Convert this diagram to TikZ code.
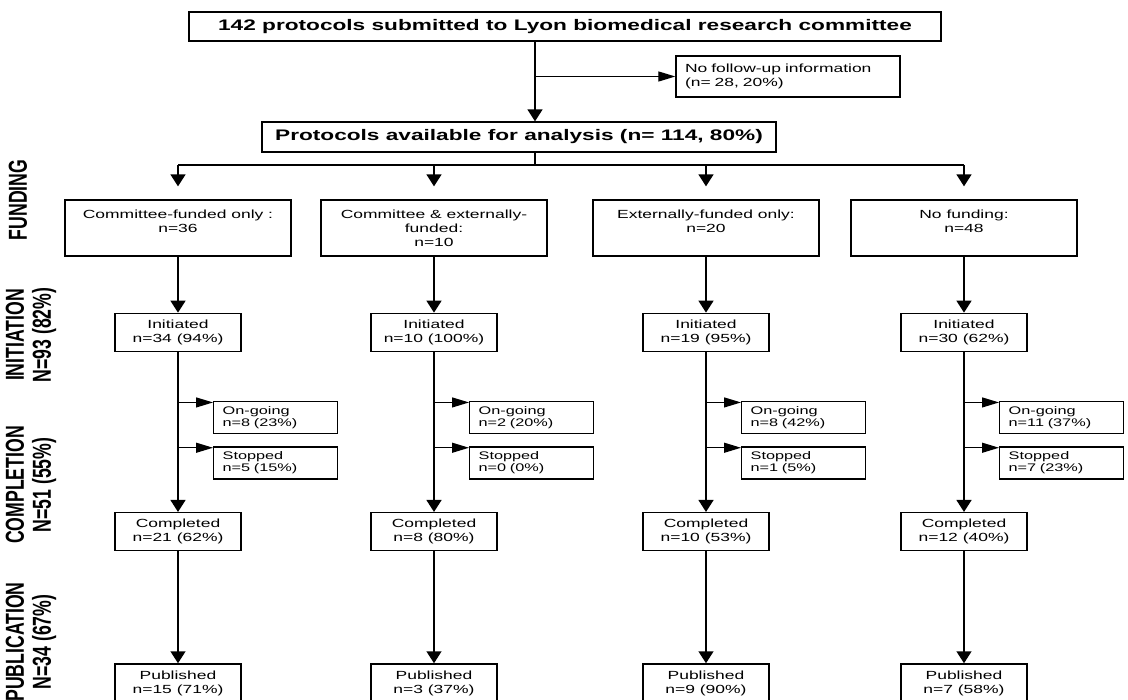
\documentclass[tikz,border=0pt]{standalone}
\usepackage{fontspec}
\setmainfont{Liberation Sans}[FakeStretch=1.48]
\newfontfamily\sidefont{Liberation Sans}[FakeStretch=0.68]
\usetikzlibrary{
  arrows.meta,
  positioning,
  calc
}
\tikzset{
  headbox/.style={draw,line width=1.3pt,inner sep=0pt,align=center,font=\bfseries\fontsize{15.3}{18}\selectfont},
  fundbox/.style={draw,line width=1.3pt,minimum width=226pt,minimum height=56pt,inner sep=0pt,align=center,font=\fontsize{11.8}{14}\selectfont},
  flowbox/.style={draw,line width=1.3pt,minimum width=126pt,minimum height=38pt,inner sep=0pt,align=center,font=\fontsize{11.8}{14}\selectfont},
  sidebox/.style={draw,line width=1.3pt,minimum height=32pt,inner xsep=9pt,inner ysep=0pt,text width=106pt,align=left,font=\fontsize{11}{12.5}\selectfont},
  sidelabel/.style={rotate=90,inner sep=0pt,align=center,font=\sidefont\bfseries\fontsize{26}{27}\selectfont},
  link/.style={line width=1.5pt},
  darrow/.style={-{Triangle[width=15pt,length=12pt]},line width=1.5pt},
  rarrow/.style={-{Triangle[width=10pt,length=17pt]},line width=1.2pt}
}

\begin{document}
\begin{tikzpicture}[x=1pt,y=-1pt]
\useasboundingbox (0,0) rectangle (1128,700);

% stage labels
\node[sidelabel] (lfund) at (18,200) {FUNDING};
\node[sidelabel] (linit) at (31,335) {INITIATION\\N=93 (82\%)};
\node[sidelabel] (lcomp) at (31,485) {COMPLETION\\N=51 (55\%)};
\node[sidelabel] (lpub) at (31,642) {PUBLICATION\\N=34 (67\%)};

% top of the chart
\node[headbox, minimum width=752pt, minimum height=29pt] (top) at (565,26.5) {142 protocols submitted to Lyon biomedical research committee};
\node[sidebox, text width=206pt, minimum height=41pt, font=\fontsize{11.8}{14}\selectfont] (nofu) at (788,76.5) {No follow-up information\\(n= 28, 20\%)};
\node[headbox, minimum width=514pt, minimum height=30pt] (avail) at (519,137) {Protocols available for analysis (n= 114, 80\%)};
\coordinate (bus) at (535,165);

\draw[darrow] (top.south -| bus) -- (avail.north -| bus);
\draw[rarrow] (nofu.west -| bus) -- (nofu.west);
\draw[link] (avail.south -| bus) -- (bus);

% funding
\node[fundbox] (fund1) at (178,228) {Committee-funded only :\\n=36\\\mbox{}};
\node[fundbox] (fund2) at (434,228) {Committee \& externally-\\funded:\\n=10};
\node[fundbox] (fund3) at (706,228) {Externally-funded only:\\n=20\\\mbox{}};
\node[fundbox] (fund4) at (964,228) {No funding:\\n=48\\\mbox{}};

\draw[link] (bus -| fund1) -- (bus -| fund4);
\draw[darrow] (bus -| fund1) -- ([yshift=13pt]fund1.north);
\draw[darrow] (bus -| fund2) -- ([yshift=13pt]fund2.north);
\draw[darrow] (bus -| fund3) -- ([yshift=13pt]fund3.north);
\draw[darrow] (bus -| fund4) -- ([yshift=13pt]fund4.north);

% initiation
\node[flowbox, below=56pt of fund1] (init1) {Initiated\\n=34 (94\%)};
\node[flowbox, below=56pt of fund2] (init2) {Initiated\\n=10 (100\%)};
\node[flowbox, below=56pt of fund3] (init3) {Initiated\\n=19 (95\%)};
\node[flowbox, below=56pt of fund4] (init4) {Initiated\\n=30 (62\%)};

% completion
\node[flowbox, below=160pt of init1] (comp1) {Completed\\n=21 (62\%)};
\node[flowbox, below=160pt of init2] (comp2) {Completed\\n=8 (80\%)};
\node[flowbox, below=160pt of init3] (comp3) {Completed\\n=10 (53\%)};
\node[flowbox, below=160pt of init4] (comp4) {Completed\\n=12 (40\%)};

% on-going and stopped
\node[sidebox, anchor=north west] (ong1) at ($(init1.south)+(35,49)$) {On-going\\n=8 (23\%)};
\node[sidebox, below=12pt of ong1] (stp1) {Stopped\\n=5 (15\%)};
\node[sidebox, anchor=north west] (ong2) at ($(init2.south)+(35,49)$) {On-going\\n=2 (20\%)};
\node[sidebox, below=12pt of ong2] (stp2) {Stopped\\n=0 (0\%)};
\node[sidebox, anchor=north west] (ong3) at ($(init3.south)+(35,49)$) {On-going\\n=8 (42\%)};
\node[sidebox, below=12pt of ong3] (stp3) {Stopped\\n=1 (5\%)};
\node[sidebox, anchor=north west] (ong4) at ($(init4.south)+(35,49)$) {On-going\\n=11 (37\%)};
\node[sidebox, below=12pt of ong4] (stp4) {Stopped\\n=7 (23\%)};

% publication
\node[flowbox, minimum height=40pt, below=112pt of comp1] (pub1) {Published\\n=15 (71\%)};
\node[flowbox, minimum height=40pt, below=112pt of comp2] (pub2) {Published\\n=3 (37\%)};
\node[flowbox, minimum height=40pt, below=112pt of comp3] (pub3) {Published\\n=9 (90\%)};
\node[flowbox, minimum height=40pt, below=112pt of comp4] (pub4) {Published\\n=7 (58\%)};

\coordinate (o1) at ([yshift=-1.5pt]ong1.north west);
\coordinate (s1) at ([yshift=-1.5pt]stp1.north west);
\coordinate (o2) at ([yshift=-1.5pt]ong2.north west);
\coordinate (s2) at ([yshift=-1.5pt]stp2.north west);
\coordinate (o3) at ([yshift=-1.5pt]ong3.north west);
\coordinate (s3) at ([yshift=-1.5pt]stp3.north west);
\coordinate (o4) at ([yshift=-1.5pt]ong4.north west);
\coordinate (s4) at ([yshift=-1.5pt]stp4.north west);

\draw[darrow] (fund1) -- (init1);
\draw[darrow] (fund2) -- (init2);
\draw[darrow] (fund3) -- (init3);
\draw[darrow] (fund4) -- (init4);

\draw[darrow] (init1) -- (comp1);
\draw[darrow] (init2) -- (comp2);
\draw[darrow] (init3) -- (comp3);
\draw[darrow] (init4) -- (comp4);

\draw[rarrow] (init1 |- o1) -- (o1);
\draw[rarrow] (init1 |- s1) -- (s1);
\draw[rarrow] (init2 |- o2) -- (o2);
\draw[rarrow] (init2 |- s2) -- (s2);
\draw[rarrow] (init3 |- o3) -- (o3);
\draw[rarrow] (init3 |- s3) -- (s3);
\draw[rarrow] (init4 |- o4) -- (o4);
\draw[rarrow] (init4 |- s4) -- (s4);

\draw[darrow] (comp1) -- (pub1);
\draw[darrow] (comp2) -- (pub2);
\draw[darrow] (comp3) -- (pub3);
\draw[darrow] (comp4) -- (pub4);
\end{tikzpicture}
\end{document}
